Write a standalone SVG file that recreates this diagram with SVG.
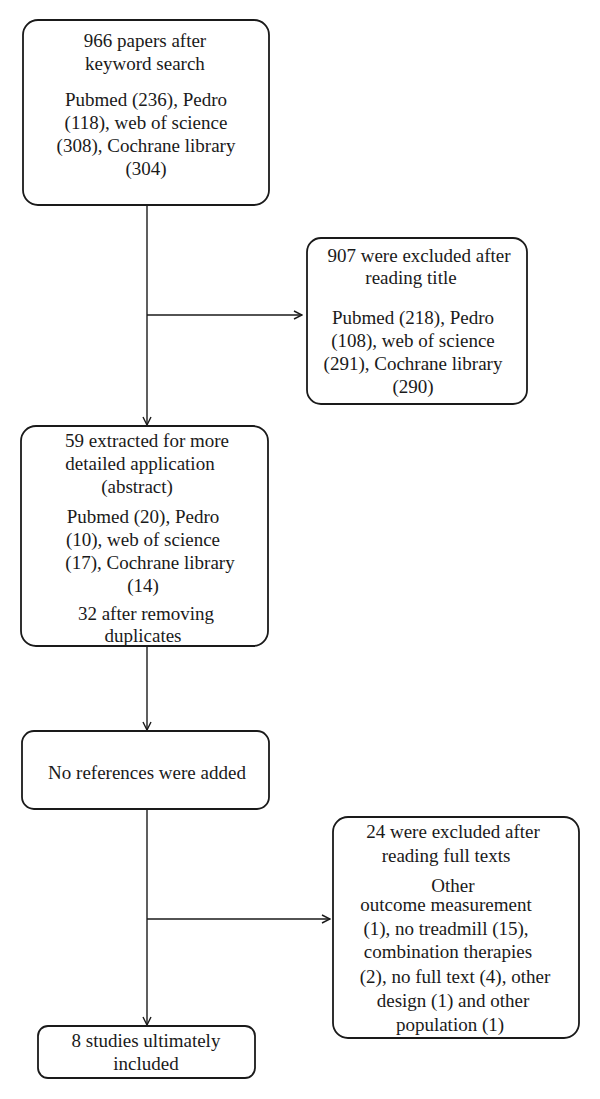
<svg xmlns="http://www.w3.org/2000/svg" width="600" height="1099" viewBox="0 0 600 1099">
<defs>
<style>
.box{fill:#fff;stroke:#1a1a1a;stroke-width:1.8}
.ln{fill:none;stroke:#1a1a1a;stroke-width:1.4}
text{font-family:"Liberation Serif","Times New Roman",serif;font-size:19px;fill:#1a1a1a;text-anchor:middle}
</style>
<marker id="arr" viewBox="0 0 10 10" refX="9" refY="5" markerWidth="10" markerHeight="10" markerUnits="userSpaceOnUse" orient="auto">
<path d="M1,1 L9,5 L1,9" fill="none" stroke="#1a1a1a" stroke-width="1.4"/>
</marker>
</defs>
<rect width="600" height="1099" fill="#fff"/>
<g id="connectors">
<line class="ln" x1="147" y1="205" x2="147" y2="425" marker-end="url(#arr)"/>
<line class="ln" x1="147" y1="315" x2="302" y2="315" marker-end="url(#arr)"/>
<line class="ln" x1="147" y1="646" x2="147" y2="730" marker-end="url(#arr)"/>
<line class="ln" x1="147" y1="809" x2="147" y2="1025" marker-end="url(#arr)"/>
<line class="ln" x1="147" y1="919" x2="330" y2="919" marker-end="url(#arr)"/>
</g>
<g id="n1">
<rect class="box" x="23" y="20" width="246" height="185" rx="15"/>
<text x="145" y="47">966 papers after</text>
<text x="145" y="70">keyword search</text>
<text x="146" y="106">Pubmed (236), Pedro</text>
<text x="146" y="129">(118), web of science</text>
<text x="146" y="152">(308), Cochrane library</text>
<text x="146" y="175">(304)</text>
</g>
<g id="n2">
<rect class="box" x="307" y="238" width="220" height="166" rx="14"/>
<text x="419" y="262">907 were excluded after</text>
<text x="411" y="284">reading title</text>
<text x="413" y="324">Pubmed (218), Pedro</text>
<text x="413" y="347">(108), web of science</text>
<text x="413" y="370">(291), Cochrane library</text>
<text x="413" y="393">(290)</text>
</g>
<g id="n3">
<rect class="box" x="21" y="426" width="247" height="220" rx="15"/>
<text x="147" y="447">59 extracted for more</text>
<text x="140" y="470">detailed application</text>
<text x="137" y="493">(abstract)</text>
<text x="143" y="523">Pubmed (20), Pedro</text>
<text x="143" y="546">(10), web of science</text>
<text x="150" y="569">(17), Cochrane library</text>
<text x="143" y="592">(14)</text>
<text x="146" y="620">32 after removing</text>
<text x="143" y="642">duplicates</text>
</g>
<g id="n4">
<rect class="box" x="22" y="731" width="247" height="78" rx="12"/>
<text x="147" y="779">No references were added</text>
</g>
<g id="n5">
<rect class="box" x="333" y="817" width="246" height="221" rx="15"/>
<text x="453" y="838">24 were excluded after</text>
<text x="446" y="862">reading full texts</text>
<text x="453" y="892">Other</text>
<text x="446" y="911">outcome measurement</text>
<text x="446" y="935">(1), no treadmill (15),</text>
<text x="448" y="958">combination therapies</text>
<text x="455" y="983">(2), no full text (4), other</text>
<text x="453" y="1007">design (1) and other</text>
<text x="450" y="1031">population (1)</text>
</g>
<g id="n6">
<rect class="box" x="38" y="1026" width="217" height="52" rx="10"/>
<text x="146" y="1047">8 studies ultimately</text>
<text x="146" y="1070">included</text>
</g>
</svg>
